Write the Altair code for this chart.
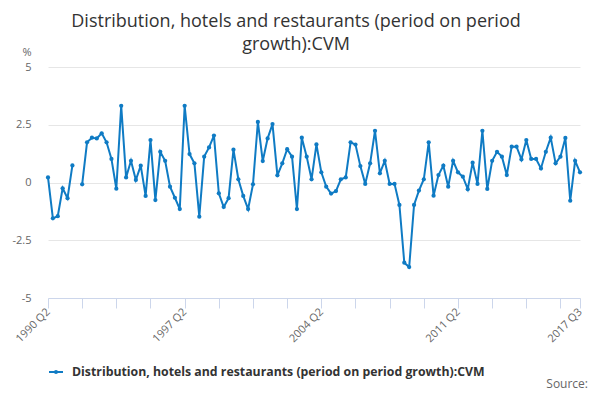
import altair as alt
import pandas as pd

# Quarterly growth (%), 1990 Q2 .. 2017 Q3 (None = missing)
values = [
    0.22, -1.55, -1.46, -0.25, -0.68, 0.74, None, -0.08, 1.74, 1.94,
    1.91, 2.13, 1.74, 1.02, -0.27, 3.32, 0.22, 0.94, 0.11, 0.73,
    -0.58, 1.84, -0.76, 1.33, 0.94, -0.18, -0.66, -1.15, 3.32, 1.23,
    0.83, -1.48, 1.12, 1.52, 2.03, -0.47, -1.06, -0.68, 1.42, 0.14,
    -0.58, -1.15, -0.08, 2.62, 0.93, 1.91, 2.53, 0.31, 0.83, 1.44,
    1.12, -1.15, 1.94, 1.12, 0.14, 1.65, 0.44, -0.18, -0.48, -0.37,
    0.14, 0.22, 1.74, 1.64, 0.71, -0.06, 0.83, 2.24, 0.40, 0.94,
    -0.06, -0.06, -0.97, -3.47, -3.66, -0.97, -0.35, 0.14, 1.74, -0.57,
    0.32, 0.73, -0.18, 0.94, 0.44, 0.25, -0.29, 0.86, -0.06, 2.24,
    -0.28, 0.94, 1.33, 1.12, 0.32, 1.55, 1.55, 1.00, 1.84, 1.02,
    1.02, 0.61, 1.33, 1.94, 0.83, 1.12, 1.93, -0.79, 0.94, 0.44,
]
quarters = [f"{1990 + (i + 1) // 4} Q{(i + 1) % 4 + 1}" for i in range(len(values))]
tick_labels = ["1990 Q2", "1997 Q2", "2004 Q2", "2011 Q2", "2017 Q3"]
tick_values = quarters[0::7] + [quarters[-1]]
y_ticks = [-5, -2.5, 0, 2.5, 5]

series_name = "Distribution, hotels and restaurants (period on period growth):CVM"
BLUE = "#0f7bc4"

df = pd.DataFrame({"quarter": quarters, "value": values, "idx": range(len(values))})
df = df.dropna()
df["seg"] = (df["idx"] > 6).astype(int)
df["series"] = series_name

label_expr = "indexof(" + str(tick_labels) + ", datum.value) >= 0 ? datum.value : ''"

base = alt.Chart(df).mark_line(
    strokeWidth=2,
    point=alt.OverlayMarkDef(filled=True, size=18),
).encode(
    x=alt.X(
        "quarter:O",
        sort=None,
        scale=alt.Scale(type="point", padding=0, domain=quarters),
        axis=alt.Axis(
            title=None,
            values=tick_values,
            labelExpr=label_expr,
            labelAngle=-45,
            labelAlign="right",
            labelBaseline="middle",
            labelPadding=2,
            labelFontSize=11,
            labelColor="#666666",
            labelFont="Open Sans",
            domainColor="#ccd6eb",
            tickColor="#ccd6eb",
            tickSize=10,
            grid=False,
            labelOverlap=False,
        ),
    ),
    y=alt.Y(
        "value:Q",
        scale=alt.Scale(domain=[-5, 5]),
        axis=alt.Axis(
            title="%",
            titleAngle=0,
            titleAlign="right",
            titleX=-17,
            titleY=-10,
            titleFontWeight="normal",
            titleColor="#666666",
            titleFontSize=11,
            titleFont="Open Sans",
            values=y_ticks,
            labelExpr="'' + datum.value",
            labelPadding=17,
            labelFontSize=11,
            labelColor="#666666",
            labelFont="Open Sans",
            domain=False,
            ticks=False,
            gridColor="#e6e6e6",
        ),
    ),
    detail="seg:N",
    color=alt.Color(
        "series:N",
        scale=alt.Scale(range=[BLUE]),
        legend=alt.Legend(
            title=None,
            orient="none",
            legendX=0,
            legendY=297,
            symbolType="M-1,0L1,0M0.15,0A0.15,0.15,0,1,1,-0.15,0A0.15,0.15,0,1,1,0.15,0",
            symbolSize=196,
            symbolStrokeWidth=2,
            symbolStrokeColor=BLUE,
            symbolFillColor=BLUE,
            labelOffset=8,
            labelFont="Open Sans",
            labelFontWeight="bold",
            labelFontSize=12.3,
            labelColor="#333333",
            labelLimit=700,
        ),
    ),
)

source = alt.Chart(pd.DataFrame({"t": ["Source:"]})).mark_text(
    align="right", baseline="middle", fontSize=12, color="#666666", font="Open Sans"
).encode(x=alt.value(540), y=alt.value(317), text="t:N")

chart = alt.layer(base, source).properties(
    width=532,
    height=231,
    autosize=alt.AutoSizeParams(type="none"),
    padding={"left": 40, "top": 59, "right": 12, "bottom": 94},
    title=alt.TitleParams(
        text=["Distribution, hotels and restaurants (period on period", "growth):CVM"],
        fontSize=18,
        font="Open Sans",
        fontWeight="normal",
        color="#333333",
        anchor="middle",
        lineHeight=23,
        dx=-18,
        offset=-8,
    ),
).configure_view(stroke=None)

chart.save("out.html", embed_options={"renderer": "svg", "actions": False})
